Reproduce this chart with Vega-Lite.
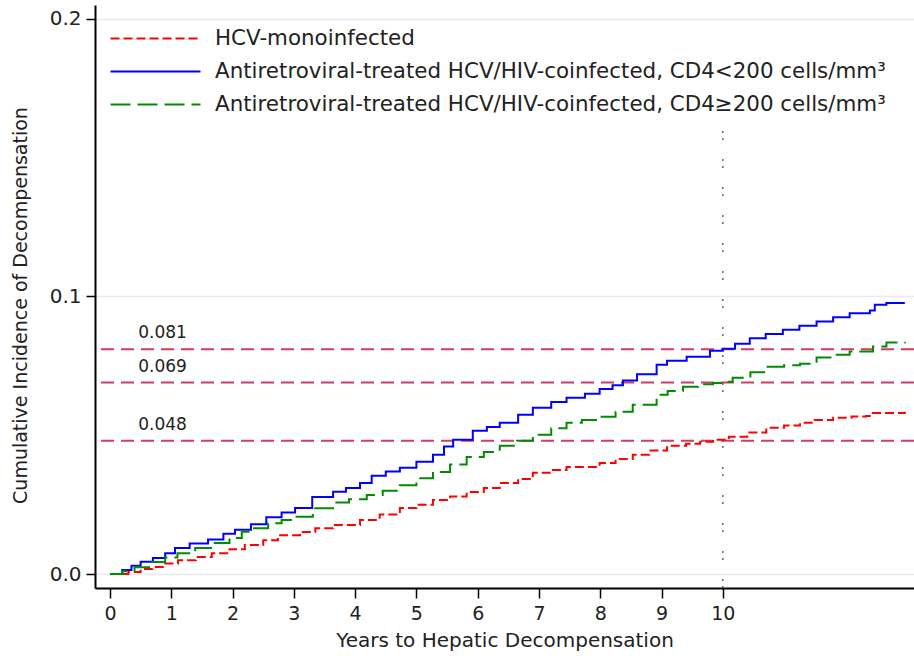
{
  "$schema": "https://vega.github.io/schema/vega-lite/v6.json",
  "width": 819,
  "height": 583,
  "autosize": "none",
  "padding": {"left": 95, "top": 5, "right": 0, "bottom": 68},
  "background": "white",
  "config": {
    "view": {"stroke": null},
    "font": "DejaVu Sans",
    "axis": {
      "domainColor": "#000000",
      "domainWidth": 2,
      "tickColor": "#000000",
      "tickWidth": 1.5,
      "labelColor": "#222222",
      "titleColor": "#222222",
      "labelFont": "DejaVu Sans",
      "titleFont": "DejaVu Sans",
      "titleFontWeight": "normal"
    },
    "legend": {
      "labelFont": "DejaVu Sans",
      "labelColor": "#222222"
    }
  },
  "datasets": {
    "curves": [
      {"t": 0, "v": 0, "g": "HCV-monoinfected"},
      {"t": 0.3, "v": 0.0008, "g": "HCV-monoinfected"},
      {"t": 0.5, "v": 0.0018, "g": "HCV-monoinfected"},
      {"t": 0.69, "v": 0.0026, "g": "HCV-monoinfected"},
      {"t": 0.9, "v": 0.0038, "g": "HCV-monoinfected"},
      {"t": 1.11, "v": 0.005, "g": "HCV-monoinfected"},
      {"t": 1.4, "v": 0.0062, "g": "HCV-monoinfected"},
      {"t": 1.66, "v": 0.0075, "g": "HCV-monoinfected"},
      {"t": 1.95, "v": 0.009, "g": "HCV-monoinfected"},
      {"t": 2.2, "v": 0.0105, "g": "HCV-monoinfected"},
      {"t": 2.5, "v": 0.0122, "g": "HCV-monoinfected"},
      {"t": 2.74, "v": 0.014, "g": "HCV-monoinfected"},
      {"t": 3.1, "v": 0.0152, "g": "HCV-monoinfected"},
      {"t": 3.35, "v": 0.0165, "g": "HCV-monoinfected"},
      {"t": 3.64, "v": 0.0177, "g": "HCV-monoinfected"},
      {"t": 4.08, "v": 0.0195, "g": "HCV-monoinfected"},
      {"t": 4.4, "v": 0.0215, "g": "HCV-monoinfected"},
      {"t": 4.73, "v": 0.0238, "g": "HCV-monoinfected"},
      {"t": 5.0, "v": 0.025, "g": "HCV-monoinfected"},
      {"t": 5.27, "v": 0.0267, "g": "HCV-monoinfected"},
      {"t": 5.55, "v": 0.028, "g": "HCV-monoinfected"},
      {"t": 5.82, "v": 0.0296, "g": "HCV-monoinfected"},
      {"t": 6.1, "v": 0.031, "g": "HCV-monoinfected"},
      {"t": 6.36, "v": 0.0328, "g": "HCV-monoinfected"},
      {"t": 6.66, "v": 0.0343, "g": "HCV-monoinfected"},
      {"t": 6.9, "v": 0.0365, "g": "HCV-monoinfected"},
      {"t": 7.2, "v": 0.0375, "g": "HCV-monoinfected"},
      {"t": 7.45, "v": 0.0386, "g": "HCV-monoinfected"},
      {"t": 7.99, "v": 0.04, "g": "HCV-monoinfected"},
      {"t": 8.25, "v": 0.0415, "g": "HCV-monoinfected"},
      {"t": 8.53, "v": 0.043, "g": "HCV-monoinfected"},
      {"t": 8.8, "v": 0.0445, "g": "HCV-monoinfected"},
      {"t": 9.09, "v": 0.0462, "g": "HCV-monoinfected"},
      {"t": 9.4, "v": 0.047, "g": "HCV-monoinfected"},
      {"t": 9.63, "v": 0.0477, "g": "HCV-monoinfected"},
      {"t": 9.84, "v": 0.0484, "g": "HCV-monoinfected"},
      {"t": 10.1, "v": 0.0495, "g": "HCV-monoinfected"},
      {"t": 10.4, "v": 0.051, "g": "HCV-monoinfected"},
      {"t": 10.71, "v": 0.0527, "g": "HCV-monoinfected"},
      {"t": 11.0, "v": 0.0535, "g": "HCV-monoinfected"},
      {"t": 11.26, "v": 0.0545, "g": "HCV-monoinfected"},
      {"t": 11.5, "v": 0.0555, "g": "HCV-monoinfected"},
      {"t": 11.8, "v": 0.0563, "g": "HCV-monoinfected"},
      {"t": 12.1, "v": 0.0568, "g": "HCV-monoinfected"},
      {"t": 12.34, "v": 0.057, "g": "HCV-monoinfected"},
      {"t": 12.45, "v": 0.058, "g": "HCV-monoinfected"},
      {"t": 12.97, "v": 0.0585, "g": "HCV-monoinfected"},

      {"t": 0, "v": 0, "g": "Antiretroviral-treated HCV/HIV-coinfected, CD4<200 cells/mm³"},
      {"t": 0.2, "v": 0.0015, "g": "Antiretroviral-treated HCV/HIV-coinfected, CD4<200 cells/mm³"},
      {"t": 0.35, "v": 0.003, "g": "Antiretroviral-treated HCV/HIV-coinfected, CD4<200 cells/mm³"},
      {"t": 0.5, "v": 0.0045, "g": "Antiretroviral-treated HCV/HIV-coinfected, CD4<200 cells/mm³"},
      {"t": 0.7, "v": 0.0058, "g": "Antiretroviral-treated HCV/HIV-coinfected, CD4<200 cells/mm³"},
      {"t": 0.9, "v": 0.0075, "g": "Antiretroviral-treated HCV/HIV-coinfected, CD4<200 cells/mm³"},
      {"t": 1.06, "v": 0.0094, "g": "Antiretroviral-treated HCV/HIV-coinfected, CD4<200 cells/mm³"},
      {"t": 1.3, "v": 0.011, "g": "Antiretroviral-treated HCV/HIV-coinfected, CD4<200 cells/mm³"},
      {"t": 1.6, "v": 0.0125, "g": "Antiretroviral-treated HCV/HIV-coinfected, CD4<200 cells/mm³"},
      {"t": 1.85, "v": 0.0145, "g": "Antiretroviral-treated HCV/HIV-coinfected, CD4<200 cells/mm³"},
      {"t": 2.04, "v": 0.016, "g": "Antiretroviral-treated HCV/HIV-coinfected, CD4<200 cells/mm³"},
      {"t": 2.3, "v": 0.018, "g": "Antiretroviral-treated HCV/HIV-coinfected, CD4<200 cells/mm³"},
      {"t": 2.55, "v": 0.0205, "g": "Antiretroviral-treated HCV/HIV-coinfected, CD4<200 cells/mm³"},
      {"t": 2.8, "v": 0.0222, "g": "Antiretroviral-treated HCV/HIV-coinfected, CD4<200 cells/mm³"},
      {"t": 3.02, "v": 0.0238, "g": "Antiretroviral-treated HCV/HIV-coinfected, CD4<200 cells/mm³"},
      {"t": 3.3, "v": 0.0278, "g": "Antiretroviral-treated HCV/HIV-coinfected, CD4<200 cells/mm³"},
      {"t": 3.64, "v": 0.0297, "g": "Antiretroviral-treated HCV/HIV-coinfected, CD4<200 cells/mm³"},
      {"t": 3.85, "v": 0.031, "g": "Antiretroviral-treated HCV/HIV-coinfected, CD4<200 cells/mm³"},
      {"t": 4.08, "v": 0.0328, "g": "Antiretroviral-treated HCV/HIV-coinfected, CD4<200 cells/mm³"},
      {"t": 4.27, "v": 0.0354, "g": "Antiretroviral-treated HCV/HIV-coinfected, CD4<200 cells/mm³"},
      {"t": 4.5, "v": 0.037, "g": "Antiretroviral-treated HCV/HIV-coinfected, CD4<200 cells/mm³"},
      {"t": 4.73, "v": 0.0383, "g": "Antiretroviral-treated HCV/HIV-coinfected, CD4<200 cells/mm³"},
      {"t": 5.0, "v": 0.0405, "g": "Antiretroviral-treated HCV/HIV-coinfected, CD4<200 cells/mm³"},
      {"t": 5.27, "v": 0.043, "g": "Antiretroviral-treated HCV/HIV-coinfected, CD4<200 cells/mm³"},
      {"t": 5.45, "v": 0.046, "g": "Antiretroviral-treated HCV/HIV-coinfected, CD4<200 cells/mm³"},
      {"t": 5.6, "v": 0.0484, "g": "Antiretroviral-treated HCV/HIV-coinfected, CD4<200 cells/mm³"},
      {"t": 5.92, "v": 0.0516, "g": "Antiretroviral-treated HCV/HIV-coinfected, CD4<200 cells/mm³"},
      {"t": 6.15, "v": 0.053, "g": "Antiretroviral-treated HCV/HIV-coinfected, CD4<200 cells/mm³"},
      {"t": 6.36, "v": 0.0545, "g": "Antiretroviral-treated HCV/HIV-coinfected, CD4<200 cells/mm³"},
      {"t": 6.66, "v": 0.0574, "g": "Antiretroviral-treated HCV/HIV-coinfected, CD4<200 cells/mm³"},
      {"t": 6.9, "v": 0.0599, "g": "Antiretroviral-treated HCV/HIV-coinfected, CD4<200 cells/mm³"},
      {"t": 7.2, "v": 0.062, "g": "Antiretroviral-treated HCV/HIV-coinfected, CD4<200 cells/mm³"},
      {"t": 7.45, "v": 0.0635, "g": "Antiretroviral-treated HCV/HIV-coinfected, CD4<200 cells/mm³"},
      {"t": 7.75, "v": 0.065, "g": "Antiretroviral-treated HCV/HIV-coinfected, CD4<200 cells/mm³"},
      {"t": 7.99, "v": 0.0667, "g": "Antiretroviral-treated HCV/HIV-coinfected, CD4<200 cells/mm³"},
      {"t": 8.2, "v": 0.068, "g": "Antiretroviral-treated HCV/HIV-coinfected, CD4<200 cells/mm³"},
      {"t": 8.37, "v": 0.0697, "g": "Antiretroviral-treated HCV/HIV-coinfected, CD4<200 cells/mm³"},
      {"t": 8.6, "v": 0.072, "g": "Antiretroviral-treated HCV/HIV-coinfected, CD4<200 cells/mm³"},
      {"t": 8.92, "v": 0.0754, "g": "Antiretroviral-treated HCV/HIV-coinfected, CD4<200 cells/mm³"},
      {"t": 9.09, "v": 0.0769, "g": "Antiretroviral-treated HCV/HIV-coinfected, CD4<200 cells/mm³"},
      {"t": 9.41, "v": 0.0783, "g": "Antiretroviral-treated HCV/HIV-coinfected, CD4<200 cells/mm³"},
      {"t": 9.79, "v": 0.0805, "g": "Antiretroviral-treated HCV/HIV-coinfected, CD4<200 cells/mm³"},
      {"t": 10.0, "v": 0.0812, "g": "Antiretroviral-treated HCV/HIV-coinfected, CD4<200 cells/mm³"},
      {"t": 10.2, "v": 0.083, "g": "Antiretroviral-treated HCV/HIV-coinfected, CD4<200 cells/mm³"},
      {"t": 10.44, "v": 0.085, "g": "Antiretroviral-treated HCV/HIV-coinfected, CD4<200 cells/mm³"},
      {"t": 10.7, "v": 0.0865, "g": "Antiretroviral-treated HCV/HIV-coinfected, CD4<200 cells/mm³"},
      {"t": 10.98, "v": 0.088, "g": "Antiretroviral-treated HCV/HIV-coinfected, CD4<200 cells/mm³"},
      {"t": 11.25, "v": 0.0895, "g": "Antiretroviral-treated HCV/HIV-coinfected, CD4<200 cells/mm³"},
      {"t": 11.53, "v": 0.091, "g": "Antiretroviral-treated HCV/HIV-coinfected, CD4<200 cells/mm³"},
      {"t": 11.8, "v": 0.0925, "g": "Antiretroviral-treated HCV/HIV-coinfected, CD4<200 cells/mm³"},
      {"t": 12.07, "v": 0.094, "g": "Antiretroviral-treated HCV/HIV-coinfected, CD4<200 cells/mm³"},
      {"t": 12.4, "v": 0.095, "g": "Antiretroviral-treated HCV/HIV-coinfected, CD4<200 cells/mm³"},
      {"t": 12.48, "v": 0.097, "g": "Antiretroviral-treated HCV/HIV-coinfected, CD4<200 cells/mm³"},
      {"t": 12.67, "v": 0.0977, "g": "Antiretroviral-treated HCV/HIV-coinfected, CD4<200 cells/mm³"},
      {"t": 12.97, "v": 0.0977, "g": "Antiretroviral-treated HCV/HIV-coinfected, CD4<200 cells/mm³"},

      {"t": 0, "v": 0, "g": "Antiretroviral-treated HCV/HIV-coinfected, CD4≥200 cells/mm³"},
      {"t": 0.2, "v": 0.001, "g": "Antiretroviral-treated HCV/HIV-coinfected, CD4≥200 cells/mm³"},
      {"t": 0.4, "v": 0.0025, "g": "Antiretroviral-treated HCV/HIV-coinfected, CD4≥200 cells/mm³"},
      {"t": 0.69, "v": 0.0044, "g": "Antiretroviral-treated HCV/HIV-coinfected, CD4≥200 cells/mm³"},
      {"t": 0.9, "v": 0.006, "g": "Antiretroviral-treated HCV/HIV-coinfected, CD4≥200 cells/mm³"},
      {"t": 1.1, "v": 0.0075, "g": "Antiretroviral-treated HCV/HIV-coinfected, CD4≥200 cells/mm³"},
      {"t": 1.39, "v": 0.0094, "g": "Antiretroviral-treated HCV/HIV-coinfected, CD4≥200 cells/mm³"},
      {"t": 1.71, "v": 0.0112, "g": "Antiretroviral-treated HCV/HIV-coinfected, CD4≥200 cells/mm³"},
      {"t": 1.95, "v": 0.013, "g": "Antiretroviral-treated HCV/HIV-coinfected, CD4≥200 cells/mm³"},
      {"t": 2.15, "v": 0.0153, "g": "Antiretroviral-treated HCV/HIV-coinfected, CD4≥200 cells/mm³"},
      {"t": 2.35, "v": 0.0165, "g": "Antiretroviral-treated HCV/HIV-coinfected, CD4≥200 cells/mm³"},
      {"t": 2.58, "v": 0.0183, "g": "Antiretroviral-treated HCV/HIV-coinfected, CD4≥200 cells/mm³"},
      {"t": 2.8, "v": 0.0195, "g": "Antiretroviral-treated HCV/HIV-coinfected, CD4≥200 cells/mm³"},
      {"t": 3.02, "v": 0.0207, "g": "Antiretroviral-treated HCV/HIV-coinfected, CD4≥200 cells/mm³"},
      {"t": 3.31, "v": 0.0237, "g": "Antiretroviral-treated HCV/HIV-coinfected, CD4≥200 cells/mm³"},
      {"t": 3.64, "v": 0.0258, "g": "Antiretroviral-treated HCV/HIV-coinfected, CD4≥200 cells/mm³"},
      {"t": 3.9, "v": 0.027, "g": "Antiretroviral-treated HCV/HIV-coinfected, CD4≥200 cells/mm³"},
      {"t": 4.19, "v": 0.0285, "g": "Antiretroviral-treated HCV/HIV-coinfected, CD4≥200 cells/mm³"},
      {"t": 4.45, "v": 0.03, "g": "Antiretroviral-treated HCV/HIV-coinfected, CD4≥200 cells/mm³"},
      {"t": 4.73, "v": 0.032, "g": "Antiretroviral-treated HCV/HIV-coinfected, CD4≥200 cells/mm³"},
      {"t": 5.0, "v": 0.0345, "g": "Antiretroviral-treated HCV/HIV-coinfected, CD4≥200 cells/mm³"},
      {"t": 5.27, "v": 0.0368, "g": "Antiretroviral-treated HCV/HIV-coinfected, CD4≥200 cells/mm³"},
      {"t": 5.55, "v": 0.0395, "g": "Antiretroviral-treated HCV/HIV-coinfected, CD4≥200 cells/mm³"},
      {"t": 5.82, "v": 0.0422, "g": "Antiretroviral-treated HCV/HIV-coinfected, CD4≥200 cells/mm³"},
      {"t": 6.1, "v": 0.044, "g": "Antiretroviral-treated HCV/HIV-coinfected, CD4≥200 cells/mm³"},
      {"t": 6.36, "v": 0.0462, "g": "Antiretroviral-treated HCV/HIV-coinfected, CD4≥200 cells/mm³"},
      {"t": 6.64, "v": 0.048, "g": "Antiretroviral-treated HCV/HIV-coinfected, CD4≥200 cells/mm³"},
      {"t": 6.9, "v": 0.0502, "g": "Antiretroviral-treated HCV/HIV-coinfected, CD4≥200 cells/mm³"},
      {"t": 7.2, "v": 0.0525, "g": "Antiretroviral-treated HCV/HIV-coinfected, CD4≥200 cells/mm³"},
      {"t": 7.45, "v": 0.0545, "g": "Antiretroviral-treated HCV/HIV-coinfected, CD4≥200 cells/mm³"},
      {"t": 7.7, "v": 0.0555, "g": "Antiretroviral-treated HCV/HIV-coinfected, CD4≥200 cells/mm³"},
      {"t": 7.99, "v": 0.0567, "g": "Antiretroviral-treated HCV/HIV-coinfected, CD4≥200 cells/mm³"},
      {"t": 8.25, "v": 0.0585, "g": "Antiretroviral-treated HCV/HIV-coinfected, CD4≥200 cells/mm³"},
      {"t": 8.53, "v": 0.061, "g": "Antiretroviral-treated HCV/HIV-coinfected, CD4≥200 cells/mm³"},
      {"t": 8.92, "v": 0.0646, "g": "Antiretroviral-treated HCV/HIV-coinfected, CD4≥200 cells/mm³"},
      {"t": 9.1, "v": 0.066, "g": "Antiretroviral-treated HCV/HIV-coinfected, CD4≥200 cells/mm³"},
      {"t": 9.35, "v": 0.0675, "g": "Antiretroviral-treated HCV/HIV-coinfected, CD4≥200 cells/mm³"},
      {"t": 9.6, "v": 0.0684, "g": "Antiretroviral-treated HCV/HIV-coinfected, CD4≥200 cells/mm³"},
      {"t": 9.84, "v": 0.0688, "g": "Antiretroviral-treated HCV/HIV-coinfected, CD4≥200 cells/mm³"},
      {"t": 10.0, "v": 0.0693, "g": "Antiretroviral-treated HCV/HIV-coinfected, CD4≥200 cells/mm³"},
      {"t": 10.16, "v": 0.0707, "g": "Antiretroviral-treated HCV/HIV-coinfected, CD4≥200 cells/mm³"},
      {"t": 10.45, "v": 0.0727, "g": "Antiretroviral-treated HCV/HIV-coinfected, CD4≥200 cells/mm³"},
      {"t": 10.71, "v": 0.0747, "g": "Antiretroviral-treated HCV/HIV-coinfected, CD4≥200 cells/mm³"},
      {"t": 11.0, "v": 0.0752, "g": "Antiretroviral-treated HCV/HIV-coinfected, CD4≥200 cells/mm³"},
      {"t": 11.26, "v": 0.0758, "g": "Antiretroviral-treated HCV/HIV-coinfected, CD4≥200 cells/mm³"},
      {"t": 11.53, "v": 0.078, "g": "Antiretroviral-treated HCV/HIV-coinfected, CD4≥200 cells/mm³"},
      {"t": 11.8, "v": 0.079, "g": "Antiretroviral-treated HCV/HIV-coinfected, CD4≥200 cells/mm³"},
      {"t": 12.07, "v": 0.0802, "g": "Antiretroviral-treated HCV/HIV-coinfected, CD4≥200 cells/mm³"},
      {"t": 12.45, "v": 0.082, "g": "Antiretroviral-treated HCV/HIV-coinfected, CD4≥200 cells/mm³"},
      {"t": 12.67, "v": 0.0834, "g": "Antiretroviral-treated HCV/HIV-coinfected, CD4≥200 cells/mm³"},
      {"t": 12.97, "v": 0.0836, "g": "Antiretroviral-treated HCV/HIV-coinfected, CD4≥200 cells/mm³"}
    ],
    "refs": [
      {"v": 0.081, "t": 0.46},
      {"v": 0.069, "t": 0.46},
      {"v": 0.048, "t": 0.46}
    ],
    "vline": [
      {"t": 10, "v": -0.005, "v2": 0.163}
    ]
  },
  "layer": [
    {
      "data": {"name": "refs"},
      "mark": {"type": "rule", "stroke": "#d23c64", "strokeWidth": 2, "strokeDash": [13, 7]},
      "encoding": {
        "y": {"field": "v", "type": "quantitative"}
      }
    },
    {
      "data": {"name": "refs"},
      "mark": {"type": "text", "align": "left", "baseline": "middle", "dy": -16, "fontSize": 17, "color": "#222222", "font": "DejaVu Sans"},
      "encoding": {
        "x": {"field": "t", "type": "quantitative"},
        "y": {"field": "v", "type": "quantitative"},
        "text": {"field": "v", "type": "quantitative", "format": ".3f"}
      }
    },
    {
      "data": {"name": "vline"},
      "mark": {"type": "rule", "stroke": "#666666", "strokeWidth": 1.5, "strokeDash": [2, 5, 2, 19]},
      "encoding": {
        "x": {"field": "t", "type": "quantitative"},
        "y": {"field": "v", "type": "quantitative"},
        "y2": {"field": "v2"}
      }
    },
    {
      "data": {"name": "curves"},
      "mark": {"type": "line", "interpolate": "step-after", "strokeWidth": 2},
      "encoding": {
        "x": {
          "field": "t",
          "type": "quantitative",
          "scale": {"domain": [-0.245, 13.12], "nice": false, "zero": false},
          "axis": {
            "title": "Years to Hepatic Decompensation",
            "values": [0, 1, 2, 3, 4, 5, 6, 7, 8, 9, 10],
            "format": "d",
            "tickSize": 10,
            "labelFontSize": 19,
            "labelPadding": 6,
            "titleFontSize": 20,
            "titleBaseline": "middle",
            "titleY": 52,
            "grid": false
          }
        },
        "y": {
          "field": "v",
          "type": "quantitative",
          "scale": {"domain": [-0.005, 0.205], "nice": false, "zero": false},
          "axis": {
            "title": "Cumulative Incidence of Decompensation",
            "values": [0, 0.1, 0.2],
            "format": ".1f",
            "tickSize": 9,
            "labelFontSize": 20,
            "labelPadding": 5,
            "titleFontSize": 19,
            "titleBaseline": "middle",
            "titleX": -75,
            "titleY": 300,
            "grid": true,
            "gridColor": "#e6ebf0",
            "gridWidth": 1.5
          }
        },
        "color": {
          "field": "g",
          "type": "nominal",
          "scale": {
            "domain": ["HCV-monoinfected", "Antiretroviral-treated HCV/HIV-coinfected, CD4<200 cells/mm³", "Antiretroviral-treated HCV/HIV-coinfected, CD4≥200 cells/mm³"],
            "range": ["#ff0000", "#0000ff", "#008c00"]
          },
          "legend": {
            "title": null,
            "orient": "none",
            "legendX": 48,
            "legendY": 21,
            "symbolType": "M-4,0H4",
            "symbolSize": 506,
            "symbolStrokeWidth": 2,
            "labelFontSize": 21.4,
            "labelLimit": 900,
            "labelOffset": 47,
            "rowPadding": 10
          }
        },
        "strokeDash": {
          "field": "g",
          "type": "nominal",
          "scale": {
            "domain": ["HCV-monoinfected", "Antiretroviral-treated HCV/HIV-coinfected, CD4<200 cells/mm³", "Antiretroviral-treated HCV/HIV-coinfected, CD4≥200 cells/mm³"],
            "range": [[9, 4], [1, 0], [20, 7]]
          },
          "legend": null
        }
      }
    }
  ]
}
